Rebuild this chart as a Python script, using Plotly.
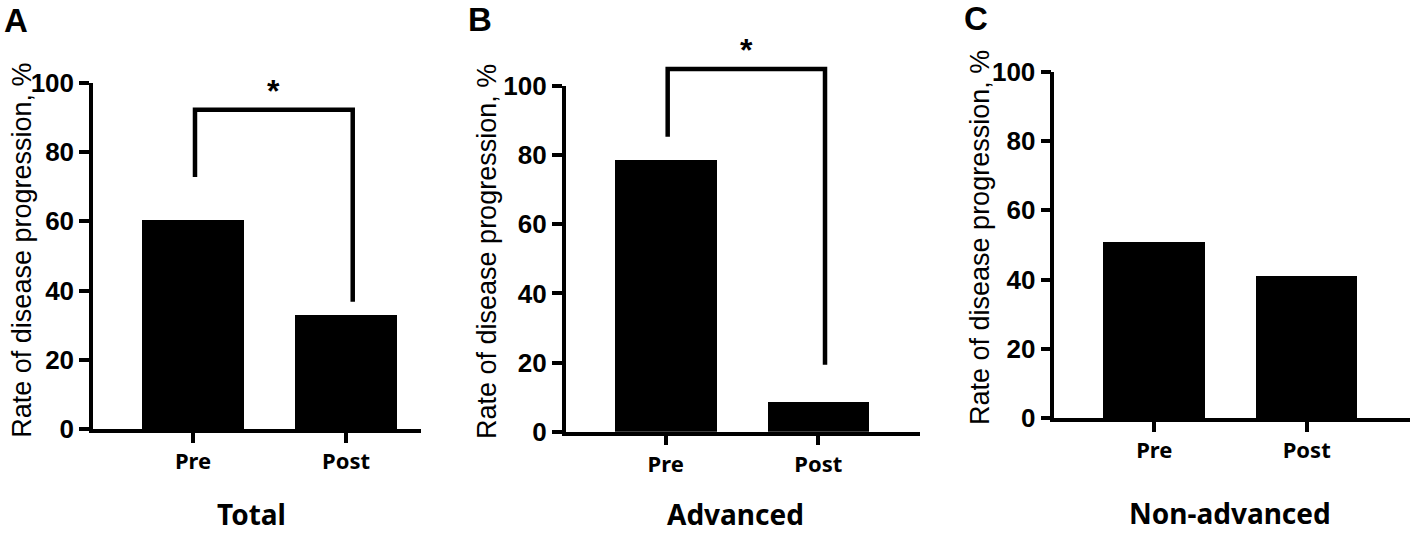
import plotly.graph_objects as go

# ---------------- data ----------------
categories = ["Pre", "Post"]
panel_letters = ["A", "B", "C"]
panel_titles = ["Total", "Advanced", "Non-advanced"]
total_values = [60.5, 33.0]
advanced_values = [78.6, 8.6]
nonadvanced_values = [51.0, 41.1]
y_ticks = [0, 20, 40, 60, 80, 100]
y_title = "Rate of disease progression, %"
sig_label = "*"
# significance brackets: top of bracket, bottom of left leg, bottom of right leg (in %)
total_bracket = [92.2, 72.8, 36.8]
advanced_bracket = [104.9, 85.3, 19.4]
total_star = 99.5
advanced_star = 112.5

# ---------------- layout geometry (pixels) ----------------
W, H = 1418, 534
panels = [
    dict(values=total_values, bracket=total_bracket, star=total_star,
         x0=93, x1=421, zero=429.3, top=82.7, pre=193, post=346,
         ytitle=(21.7, 250), letter=(16, 21), title=(251.5, 514)),
    dict(values=advanced_values, bracket=advanced_bracket, star=advanced_star,
         x0=565.7, x1=920, zero=431.7, top=86, pre=665.7, post=818.3,
         ytitle=(487, 252), letter=(480, 20), title=(735, 514)),
    dict(values=nonadvanced_values, bracket=None, star=None,
         x0=1054.3, x1=1410, zero=418.3, top=71.5, pre=1154.3, post=1306.7,
         ytitle=(980, 238), letter=(976, 19), title=(1230, 513)),
]
BAR_WIDTH = 0.667
BRACKET_X = (0.013, 1.044)
AXIS_LW = 3.5
BRACKET_LW = 4.5

def px_x(px):
    return px / W

def px_y(py):
    return 1 - py / H

fig = go.Figure()
annotations = []
shapes = []

for i, p in enumerate(panels):
    n = "" if i == 0 else str(i + 1)
    xa, ya = "x" + n, "y" + n
    span = p["post"] - p["pre"]
    r0 = (p["x0"] - p["pre"]) / span
    r1 = (p["x1"] - p["pre"]) / span
    dom_y0, dom_y1 = px_y(p["zero"]), px_y(p["top"])

    fig.add_trace(go.Bar(
        x=[0, 1], y=p["values"], width=BAR_WIDTH,
        marker=dict(color="black", line=dict(width=0)),
        xaxis=xa, yaxis=ya, showlegend=False, hoverinfo="skip",
    ))

    fig.update_layout(**{
        "xaxis" + n: dict(
            domain=[px_x(p["x0"]), px_x(p["x1"])], range=[r0, r1],
            showline=True, linewidth=AXIS_LW, linecolor="black",
            ticks="outside", ticklen=10, tickwidth=AXIS_LW, tickcolor="black",
            tickvals=[0, 1], ticktext=categories,
            tickfont=dict(family="Noto Sans", size=22, color="black", weight="bold"),
            showgrid=False, zeroline=False, anchor=ya, fixedrange=True,
        ),
        "yaxis" + n: dict(
            domain=[dom_y0, dom_y1], range=[0, 100],
            showline=True, linewidth=AXIS_LW, linecolor="black",
            ticks="outside", ticklen=10, tickwidth=AXIS_LW, tickcolor="black",
            tickvals=y_ticks,
            tickfont=dict(family="Liberation Sans", size=26, color="black", weight="bold"),
            showgrid=False, zeroline=False, anchor=xa, fixedrange=True,
        ),
    })

    def val_to_paper(v, d0=dom_y0, d1=dom_y1):
        return d0 + v / 100.0 * (d1 - d0)

    # y-axis title
    annotations.append(dict(
        text=y_title, textangle=-90, xref="paper", yref="paper",
        x=px_x(p["ytitle"][0]), y=px_y(p["ytitle"][1]),
        xanchor="center", yanchor="middle", showarrow=False,
        font=dict(family="Liberation Sans", size=27, color="black"),
    ))
    # panel letter
    annotations.append(dict(
        text=panel_letters[i], xref="paper", yref="paper",
        x=px_x(p["letter"][0]), y=px_y(p["letter"][1]),
        xanchor="center", yanchor="middle", showarrow=False,
        font=dict(family="Liberation Sans", size=33, color="black", weight="bold"),
    ))
    # panel title
    annotations.append(dict(
        text=panel_titles[i], xref="paper", yref="paper",
        x=px_x(p["title"][0]), y=px_y(p["title"][1]),
        xanchor="center", yanchor="middle", showarrow=False,
        font=dict(family="Noto Sans", size=28, color="black", weight="bold"),
    ))

    if p["bracket"] is not None:
        top, lbot, rbot = p["bracket"]
        lx, rx = BRACKET_X
        path = (f"M {lx},{val_to_paper(lbot)} L {lx},{val_to_paper(top)} "
                f"L {rx},{val_to_paper(top)} L {rx},{val_to_paper(rbot)}")
        shapes.append(dict(type="path", path=path, xref=xa, yref="paper",
                           line=dict(color="black", width=BRACKET_LW)))
        annotations.append(dict(
            text=sig_label, xref=xa, yref="paper",
            x=(lx + rx) / 2, y=val_to_paper(p["star"]), yshift=-7,
            xanchor="center", yanchor="middle", showarrow=False,
            font=dict(family="Liberation Sans", size=32, color="black", weight="bold"),
        ))

fig.update_layout(
    width=W, height=H, margin=dict(l=0, r=0, t=0, b=0),
    paper_bgcolor="white", plot_bgcolor="white",
    template="none", bargap=0,
    annotations=annotations, shapes=shapes, showlegend=False,
)

fig.write_html(
    "out.html",
    config={"displayModeBar": False},
    post_script="document.body.style.margin='0px';document.body.style.overflow='hidden';",
)
